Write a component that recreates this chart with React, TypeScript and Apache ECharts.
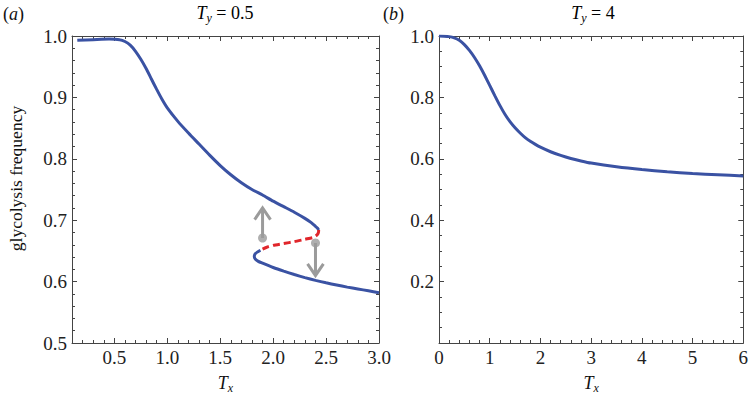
import React, { useEffect, useRef } from 'react';
import * as echarts from 'echarts';

// Panel (a): T_y = 0.5 — bistable S-shaped curve
const upperTx = [0.15, 0.3, 0.45, 0.55, 0.6, 0.65, 0.7, 0.75, 0.8, 0.85, 0.9, 0.95, 1.0, 1.1, 1.2, 1.3, 1.4, 1.5, 1.6, 1.7, 1.8, 1.9, 2.0, 2.1, 2.2, 2.3, 2.36, 2.4, 2.42, 2.43];
const upperFreq = [0.993, 0.994, 0.995, 0.994, 0.991, 0.985, 0.975, 0.962, 0.947, 0.93, 0.913, 0.897, 0.883, 0.861, 0.842, 0.824, 0.806, 0.789, 0.774, 0.761, 0.75, 0.741, 0.731, 0.722, 0.713, 0.703, 0.696, 0.69, 0.687, 0.684];
const unstableTx = [2.43, 2.428, 2.415, 2.38, 2.3, 2.2, 2.1, 2.0, 1.94, 1.9, 1.88];
const unstableFreq = [0.684, 0.68, 0.676, 0.672, 0.669, 0.665, 0.662, 0.659, 0.656, 0.653, 0.651];
const lowerTx = [1.88, 1.85, 1.83, 1.822, 1.83, 1.86, 1.9, 2.0, 2.1, 2.2, 2.3, 2.4, 2.5, 2.6, 2.7, 2.8, 2.9, 3.0];
const lowerFreq = [0.651, 0.648, 0.645, 0.641, 0.637, 0.633, 0.63, 0.623, 0.617, 0.6115, 0.6065, 0.602, 0.598, 0.5945, 0.591, 0.588, 0.585, 0.582];

// Arrows: [Tx, start freq, end freq]
const arrowUp = [1.9, 0.671, 0.72];
const arrowDown = [2.4, 0.663, 0.61];
const headHalfWidth = 0.075;
const headHeight = 0.019;

// Panel (b): T_y = 4
const rightTx = [0, 0.1, 0.2, 0.3, 0.4, 0.5, 0.6, 0.7, 0.8, 0.9, 1.0, 1.1, 1.2, 1.3, 1.4, 1.5, 1.6, 1.7, 1.8, 1.9, 2.0, 2.2, 2.4, 2.6, 2.8, 3.0, 3.5, 4.0, 4.5, 5.0, 5.5, 6.0];
const rightFreq = [1.0, 0.9995, 0.998, 0.994, 0.986, 0.972, 0.953, 0.93, 0.903, 0.872, 0.839, 0.806, 0.774, 0.745, 0.721, 0.701, 0.684, 0.669, 0.657, 0.647, 0.638, 0.623, 0.611, 0.601, 0.593, 0.586, 0.574, 0.565, 0.558, 0.552, 0.548, 0.544];

const titleA = '0.5';
const titleB = '4';

const FONT = '"Liberation Serif", "Times New Roman", serif';
const FRAME = '#444';
const BLUE = '#3a52a3';
const RED = '#e0262b';
const GRAY = '#9b9b9b';

const zip = (xs: number[], ys: number[]) => xs.map((x, i) => [x, ys[i]]);

const subRich = {
  t: { fontFamily: FONT, fontStyle: 'italic', fontSize: 18, lineHeight: 22, color: '#111' },
  s: { fontFamily: FONT, fontStyle: 'italic', fontSize: 12, lineHeight: 12, verticalAlign: 'bottom', color: '#111' },
  n: { fontFamily: FONT, fontSize: 18, lineHeight: 22, color: '#111' },
};

function makeAxis(opts: any) {
  const { min, max, interval, minorSplit, position, labels, formatter, extra } = opts;
  return {
    type: 'value',
    gridIndex: opts.grid,
    min,
    max,
    ...(interval ? { interval } : {}),
    position,
    axisLine: { show: true, onZero: false, lineStyle: { color: FRAME, width: 1 } },
    axisTick: { show: true, inside: true, length: 5, lineStyle: { color: FRAME } },
    minorTick: { show: true, splitNumber: minorSplit, length: 3, lineStyle: { color: FRAME } },
    splitLine: { show: false },
    axisLabel: labels
      ? { show: true, fontFamily: FONT, fontSize: 19, color: '#222', formatter, hideOverlap: false, ...(opts.labelExtra || {}) }
      : { show: false },
    ...(extra || {}),
  };
}

function arrowHead(a: number[]) {
  const dir = a[2] > a[1] ? -1 : 1;
  return [
    [a[0] - headHalfWidth, a[2] + dir * headHeight],
    [a[0], a[2]],
    [a[0] + headHalfWidth, a[2] + dir * headHeight],
  ];
}

export default function App() {
  const ref = useRef<HTMLDivElement>(null);
  useEffect(() => {
    const chart = echarts.init(ref.current!, null, { renderer: 'svg' });
    const xName = {
      name: '{t|T}{s|x}',
      nameLocation: 'middle',
      nameGap: 29,
      nameTextStyle: { rich: subRich },
    };
    const option: any = {
      animation: false,
      grid: [
        { left: 72, top: 36, width: 307, height: 307, containLabel: false },
        { left: 439, top: 36, width: 308, height: 307, containLabel: false },
      ],
      xAxis: [
        makeAxis({ grid: 0, min: 0.1, max: 3, minorSplit: 5, position: 'bottom', labels: true,
          formatter: (v: number) => v.toFixed(1), labelExtra: { showMinLabel: false, margin: 5 }, extra: xName }),
        makeAxis({ grid: 0, min: 0.1, max: 3, minorSplit: 5, position: 'top', labels: false }),
        makeAxis({ grid: 1, min: 0, max: 6, interval: 1, minorSplit: 5, position: 'bottom', labels: true,
          formatter: (v: number) => String(v), labelExtra: { margin: 5 }, extra: xName }),
        makeAxis({ grid: 1, min: 0, max: 6, interval: 1, minorSplit: 5, position: 'top', labels: false }),
      ],
      yAxis: [
        makeAxis({ grid: 0, min: 0.5, max: 1.0, interval: 0.1, minorSplit: 5, position: 'left', labels: true,
          formatter: (v: number) => v.toFixed(1), labelExtra: { margin: 5 },
          extra: { name: 'glycolysis frequency', nameLocation: 'middle', nameGap: 47,
            nameTextStyle: { fontFamily: FONT, fontSize: 17.5, color: '#111', padding: [0, 0, 0, 22] } } }),
        makeAxis({ grid: 0, min: 0.5, max: 1.0, interval: 0.1, minorSplit: 5, position: 'right', labels: false }),
        makeAxis({ grid: 1, min: 0, max: 1.0, interval: 0.2, minorSplit: 4, position: 'left', labels: true,
          formatter: (v: number) => (v === 0 ? '' : v.toFixed(1)), labelExtra: { margin: 5 } }),
        makeAxis({ grid: 1, min: 0, max: 1.0, interval: 0.2, minorSplit: 4, position: 'right', labels: false }),
      ],
      graphic: [
        { type: 'text', left: 3, top: 5, style: { text: '({i|a})', fontFamily: FONT, fontSize: 18, fill: '#111',
          rich: { i: { fontFamily: FONT, fontStyle: 'italic', fontSize: 18 } } } },
        { type: 'text', left: 383, top: 5, style: { text: '({i|b})', fontFamily: FONT, fontSize: 18, fill: '#111',
          rich: { i: { fontFamily: FONT, fontStyle: 'italic', fontSize: 18 } } } },
        { type: 'text', x: 225, y: 2, style: { text: `{t|T}{s|y}{n| = ${titleA}}`, align: 'center', rich: subRich } },
        { type: 'text', x: 593, y: 2, style: { text: `{t|T}{s|y}{n| = ${titleB}}`, align: 'center', rich: subRich } },
      ],
      series: [
        { type: 'line', xAxisIndex: 0, yAxisIndex: 0, data: [[arrowUp[0], arrowUp[1]], [arrowUp[0], arrowUp[2]]],
          showSymbol: false, symbol: 'none', lineStyle: { color: GRAY, width: 3 } },
        { type: 'line', xAxisIndex: 0, yAxisIndex: 0, data: arrowHead(arrowUp),
          showSymbol: false, symbol: 'none', lineStyle: { color: GRAY, width: 3, join: 'miter' } },
        { type: 'line', xAxisIndex: 0, yAxisIndex: 0, data: [[arrowDown[0], arrowDown[1]], [arrowDown[0], arrowDown[2]]],
          showSymbol: false, symbol: 'none', lineStyle: { color: GRAY, width: 3 } },
        { type: 'line', xAxisIndex: 0, yAxisIndex: 0, data: arrowHead(arrowDown),
          showSymbol: false, symbol: 'none', lineStyle: { color: GRAY, width: 3, join: 'miter' } },
        { type: 'scatter', xAxisIndex: 0, yAxisIndex: 0, data: [[arrowUp[0], arrowUp[1]], [arrowDown[0], arrowDown[1]]],
          symbol: 'circle', symbolSize: 9, itemStyle: { color: GRAY } },
        { type: 'line', xAxisIndex: 0, yAxisIndex: 0, data: zip(upperTx, upperFreq), smooth: 0.2,
          showSymbol: false, symbol: 'none', lineStyle: { color: BLUE, width: 3 } },
        { type: 'line', xAxisIndex: 0, yAxisIndex: 0, data: zip(unstableTx, unstableFreq), smooth: 0.2,
          showSymbol: false, symbol: 'none', lineStyle: { color: RED, width: 3, type: [7, 4] } },
        { type: 'line', xAxisIndex: 0, yAxisIndex: 0, data: zip(lowerTx, lowerFreq), smooth: 0.2,
          showSymbol: false, symbol: 'none', lineStyle: { color: BLUE, width: 3 } },
        { type: 'line', xAxisIndex: 2, yAxisIndex: 2, data: zip(rightTx, rightFreq), smooth: 0.2,
          showSymbol: false, symbol: 'none', lineStyle: { color: BLUE, width: 3 } },
      ],
    };
    chart.setOption(option);
    return () => chart.dispose();
  }, []);
  return <div ref={ref} style={{ position: 'absolute', left: 0, top: 0, width: 751, height: 400 }} />;
}
